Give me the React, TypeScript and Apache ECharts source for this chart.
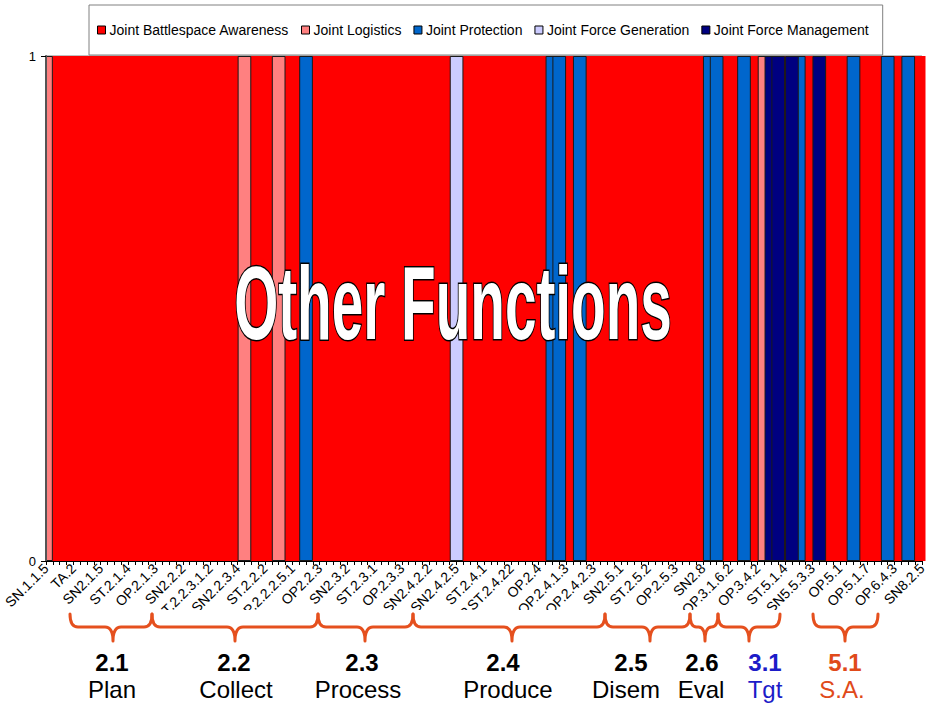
import React, { useEffect, useRef } from 'react';
import * as echarts from 'echarts';

const seriesNames = [
  'Joint Battlespace Awareness',
  'Joint Logistics',
  'Joint Protection',
  'Joint Force Generation',
  'Joint Force Management',
];
const seriesKeys = ['J', 'L', 'P', 'G', 'M'];
const seriesColors = ['#ff0000', '#ff8080', '#0066cc', '#ccccff', '#000080'];

// Labelled categories (every 4th category carries a label)
const tickLabels = [
  'SN.1.1.5', 'TA.2', 'SN2.1.5', 'ST.2.1.4', 'OP.2.1.3', 'SN2.2.2', 'ST.2.2.3.1.2', 'SN2.2.3.4',
  'ST.2.2.2', 'OP.2.2.2.5.1', 'OP2.2.3', 'SN2.3.2', 'ST.2.3.1', 'OP.2.3.3', 'SN2.4.2.2', 'SN2.4.2.5',
  'ST.2.4.1', 'OP.ST.2.4.22', 'OP.2.4', 'OP.2.4.1.3', 'OP.2.4.2.3', 'SN2.5.1', 'ST.2.5.2', 'OP.2.5.3',
  'SN2.8', 'OP.3.1.6.2', 'OP.3.4.2', 'ST.5.1.4', 'SN5.5.3.3', 'OP.5.1', 'OP.5.1.7', 'OP.6.4.3',
  'SN8.2.5',
];
const labelEvery = 4;

// Function assigned to each of the 129 categories
const categoryFunction = [
  'L', 'J', 'J', 'J', 'J', 'J', 'J', 'J', 'J', 'J', 'J', 'J', 'J', 'J', 'J', 'J',
  'J', 'J', 'J', 'J', 'J', 'J', 'J', 'J', 'J', 'J', 'J', 'J', 'J', 'L', 'J', 'J',
  'J', 'J', 'L', 'J', 'J', 'J', 'P', 'J', 'J', 'J', 'J', 'J', 'J', 'J', 'J', 'J',
  'J', 'J', 'J', 'J', 'J', 'J', 'J', 'J', 'J', 'J', 'J', 'J', 'G', 'J', 'J', 'J',
  'J', 'J', 'J', 'J', 'J', 'J', 'J', 'J', 'J', 'J', 'P', 'P', 'J', 'J', 'P', 'J',
  'J', 'J', 'J', 'J', 'J', 'J', 'J', 'J', 'J', 'J', 'J', 'J', 'J', 'J', 'J', 'J',
  'J', 'P', 'P', 'J', 'J', 'J', 'P', 'J', 'J', 'L', 'M', 'M', 'J', 'M', 'P', 'J',
  'J', 'M', 'J', 'J', 'J', 'J', 'P', 'J', 'J', 'J', 'J', 'P', 'J', 'J', 'P', 'J',
  'J',
];

const yTicks = [0, 1];

const groupNumbers = ['2.1', '2.2', '2.3', '2.4', '2.5', '2.6', '3.1', '5.1'];
const groupNames = ['Plan', 'Collect', 'Process', 'Produce', 'Disem', 'Eval', 'Tgt', 'S.A.'];
const groupColors = ['#000', '#000', '#000', '#000', '#000', '#000', '#1c1cc8', '#e04a1a'];
const overlayTitle = 'Other Functions';

// annotation layout (pixels): brace start, end, tip; number x; name x
const braceLayout = [
  [70, 152, 113],
  [152, 318, 235],
  [318, 413, 365],
  [413, 605, 512],
  [605, 690, 650],
  [690, 718, 705],
  [718, 780, 749],
  [813, 878, 845],
];
const numberX = [112, 234, 362, 503, 631, 702, 765, 845];
const nameX = [112, 236, 358, 508, 626, 701, 765, 842];

const BraceShape = (echarts.graphic as any).extendShape({
  type: 'brace',
  shape: { x1: 0, x2: 0, xm: 0, y: 0, re: 12, rt: 16 },
  buildPath(ctx: any, s: any) {
    const { x1, x2, xm, y, re, rt } = s;
    const yh = y + re;
    const c = Math.min(8, (xm - x1) / 2, (x2 - xm) / 2);
    ctx.moveTo(x1, y);
    ctx.quadraticCurveTo(x1, yh, x1 + c, yh);
    ctx.lineTo(xm - c, yh);
    ctx.quadraticCurveTo(xm, yh, xm, yh + rt);
    ctx.moveTo(xm, yh + rt);
    ctx.quadraticCurveTo(xm, yh, xm + c, yh);
    ctx.lineTo(x2 - c, yh);
    ctx.quadraticCurveTo(x2, yh, x2, y);
  },
});
(echarts.graphic as any).registerShape('brace', BraceShape);

const FONT = '"Liberation Sans", Arial, sans-serif';

function buildOption() {
  const categories = categoryFunction.map((_, i) =>
    i % labelEvery === 0 ? tickLabels[i / labelEvery] : ''
  );

  const series = seriesKeys.map((key, si) => ({
    name: seriesNames[si],
    type: 'bar',
    stack: 'all',
    barWidth: '200%',
    clip: true,
    itemStyle: {
      color: seriesColors[si],
      borderColor: si === 0 ? seriesColors[si] : '#1a1a1a',
      borderWidth: si === 0 ? 0 : 1,
    },
    emphasis: { disabled: true },
    data: categoryFunction.map((f) => (f === key ? 1 : '-')),
  }));

  const graphics: any[] = [
    // masks for the half-bars that overflow the plot edges
    { type: 'rect', z: 3, shape: { x: 0, y: 50, width: 45.5, height: 512 }, style: { fill: '#ffffff' } },
    { type: 'rect', z: 3, shape: { x: 925.5, y: 50, width: 10, height: 512 }, style: { fill: '#ffffff' } },
    // white panel under the labels
    { type: 'rect', z: 100, shape: { x: 0, y: 610, width: 880, height: 94 }, style: { fill: '#ffffff' } },
    {
      type: 'text',
      z: 120,
      x: 453,
      y: 303,
      scaleX: 0.545,
      style: {
        text: overlayTitle,
        font: `bold 104px ${FONT}`,
        fill: '#ffffff',
        stroke: '#000000',
        lineWidth: 3,
        align: 'center',
        verticalAlign: 'middle',
      },
    },
  ];

  braceLayout.forEach(([x1, x2, xm], i) => {
    graphics.push({
      type: 'brace',
      z: 110,
      shape: { x1, x2, xm, y: 614, re: 13, rt: 14 },
      style: { fill: 'none', stroke: '#e5501e', lineWidth: 3, lineCap: 'round', lineJoin: 'round' },
    });
    graphics.push({
      type: 'text',
      z: 110,
      x: numberX[i],
      y: 662,
      style: {
        text: groupNumbers[i],
        font: `bold 24px ${FONT}`,
        fill: groupColors[i],
        align: 'center',
        verticalAlign: 'middle',
      },
    });
    graphics.push({
      type: 'text',
      z: 110,
      x: nameX[i],
      y: 689,
      style: {
        text: groupNames[i],
        font: `24px ${FONT}`,
        fill: groupColors[i],
        align: 'center',
        verticalAlign: 'middle',
      },
    });
  });

  return {
    animation: false,
    textStyle: { fontFamily: FONT },
    legend: {
      data: seriesNames,
      left: 89,
      top: 5,
      padding: [18, 14, 18, 8],
      itemGap: 12,
      itemWidth: 8,
      itemHeight: 8,
      icon: 'rect',
      backgroundColor: '#ffffff',
      borderColor: '#808080',
      borderWidth: 1,
      itemStyle: { borderColor: '#000', borderWidth: 1 },
      textStyle: { fontSize: 14, color: '#000', padding: [0, 0, 0, -1] },
      selectedMode: false,
      z: 20,
    },
    grid: {
      left: 46,
      right: 4,
      top: 56,
      bottom: 143,
      show: true,
      borderColor: '#808080',
      borderWidth: 1,
      backgroundColor: 'transparent',
    },
    xAxis: {
      type: 'category',
      data: categories,
      boundaryGap: false,
      axisLine: { lineStyle: { color: '#000', width: 1 } },
      axisTick: { interval: 0, length: 4, lineStyle: { color: '#000' } },
      axisLabel: {
        interval: labelEvery - 1,
        rotate: 45,
        fontSize: 14,
        color: '#000',
        margin: 5,
      },
      splitLine: { show: false },
      z: 5,
    },
    yAxis: {
      type: 'value',
      min: yTicks[0],
      max: yTicks[yTicks.length - 1],
      interval: 1,
      axisLine: { show: true, lineStyle: { color: '#555', width: 2 } },
      axisTick: { show: true, length: 5, lineStyle: { color: '#000' } },
      axisLabel: { fontSize: 13, color: '#000', margin: 10 },
      splitLine: { show: false },
      z: 5,
    },
    series,
    graphic: graphics,
  };
}

export default function App() {
  const ref = useRef<HTMLDivElement>(null);
  useEffect(() => {
    if (!ref.current) return;
    const chart = echarts.init(ref.current, undefined, { renderer: 'svg' });
    chart.setOption(buildOption() as any);
    return () => chart.dispose();
  }, []);
  return (
    <div
      ref={ref}
      style={{ position: 'fixed', left: 0, top: 0, width: 929, height: 704, background: '#fff' }}
    />
  );
}
